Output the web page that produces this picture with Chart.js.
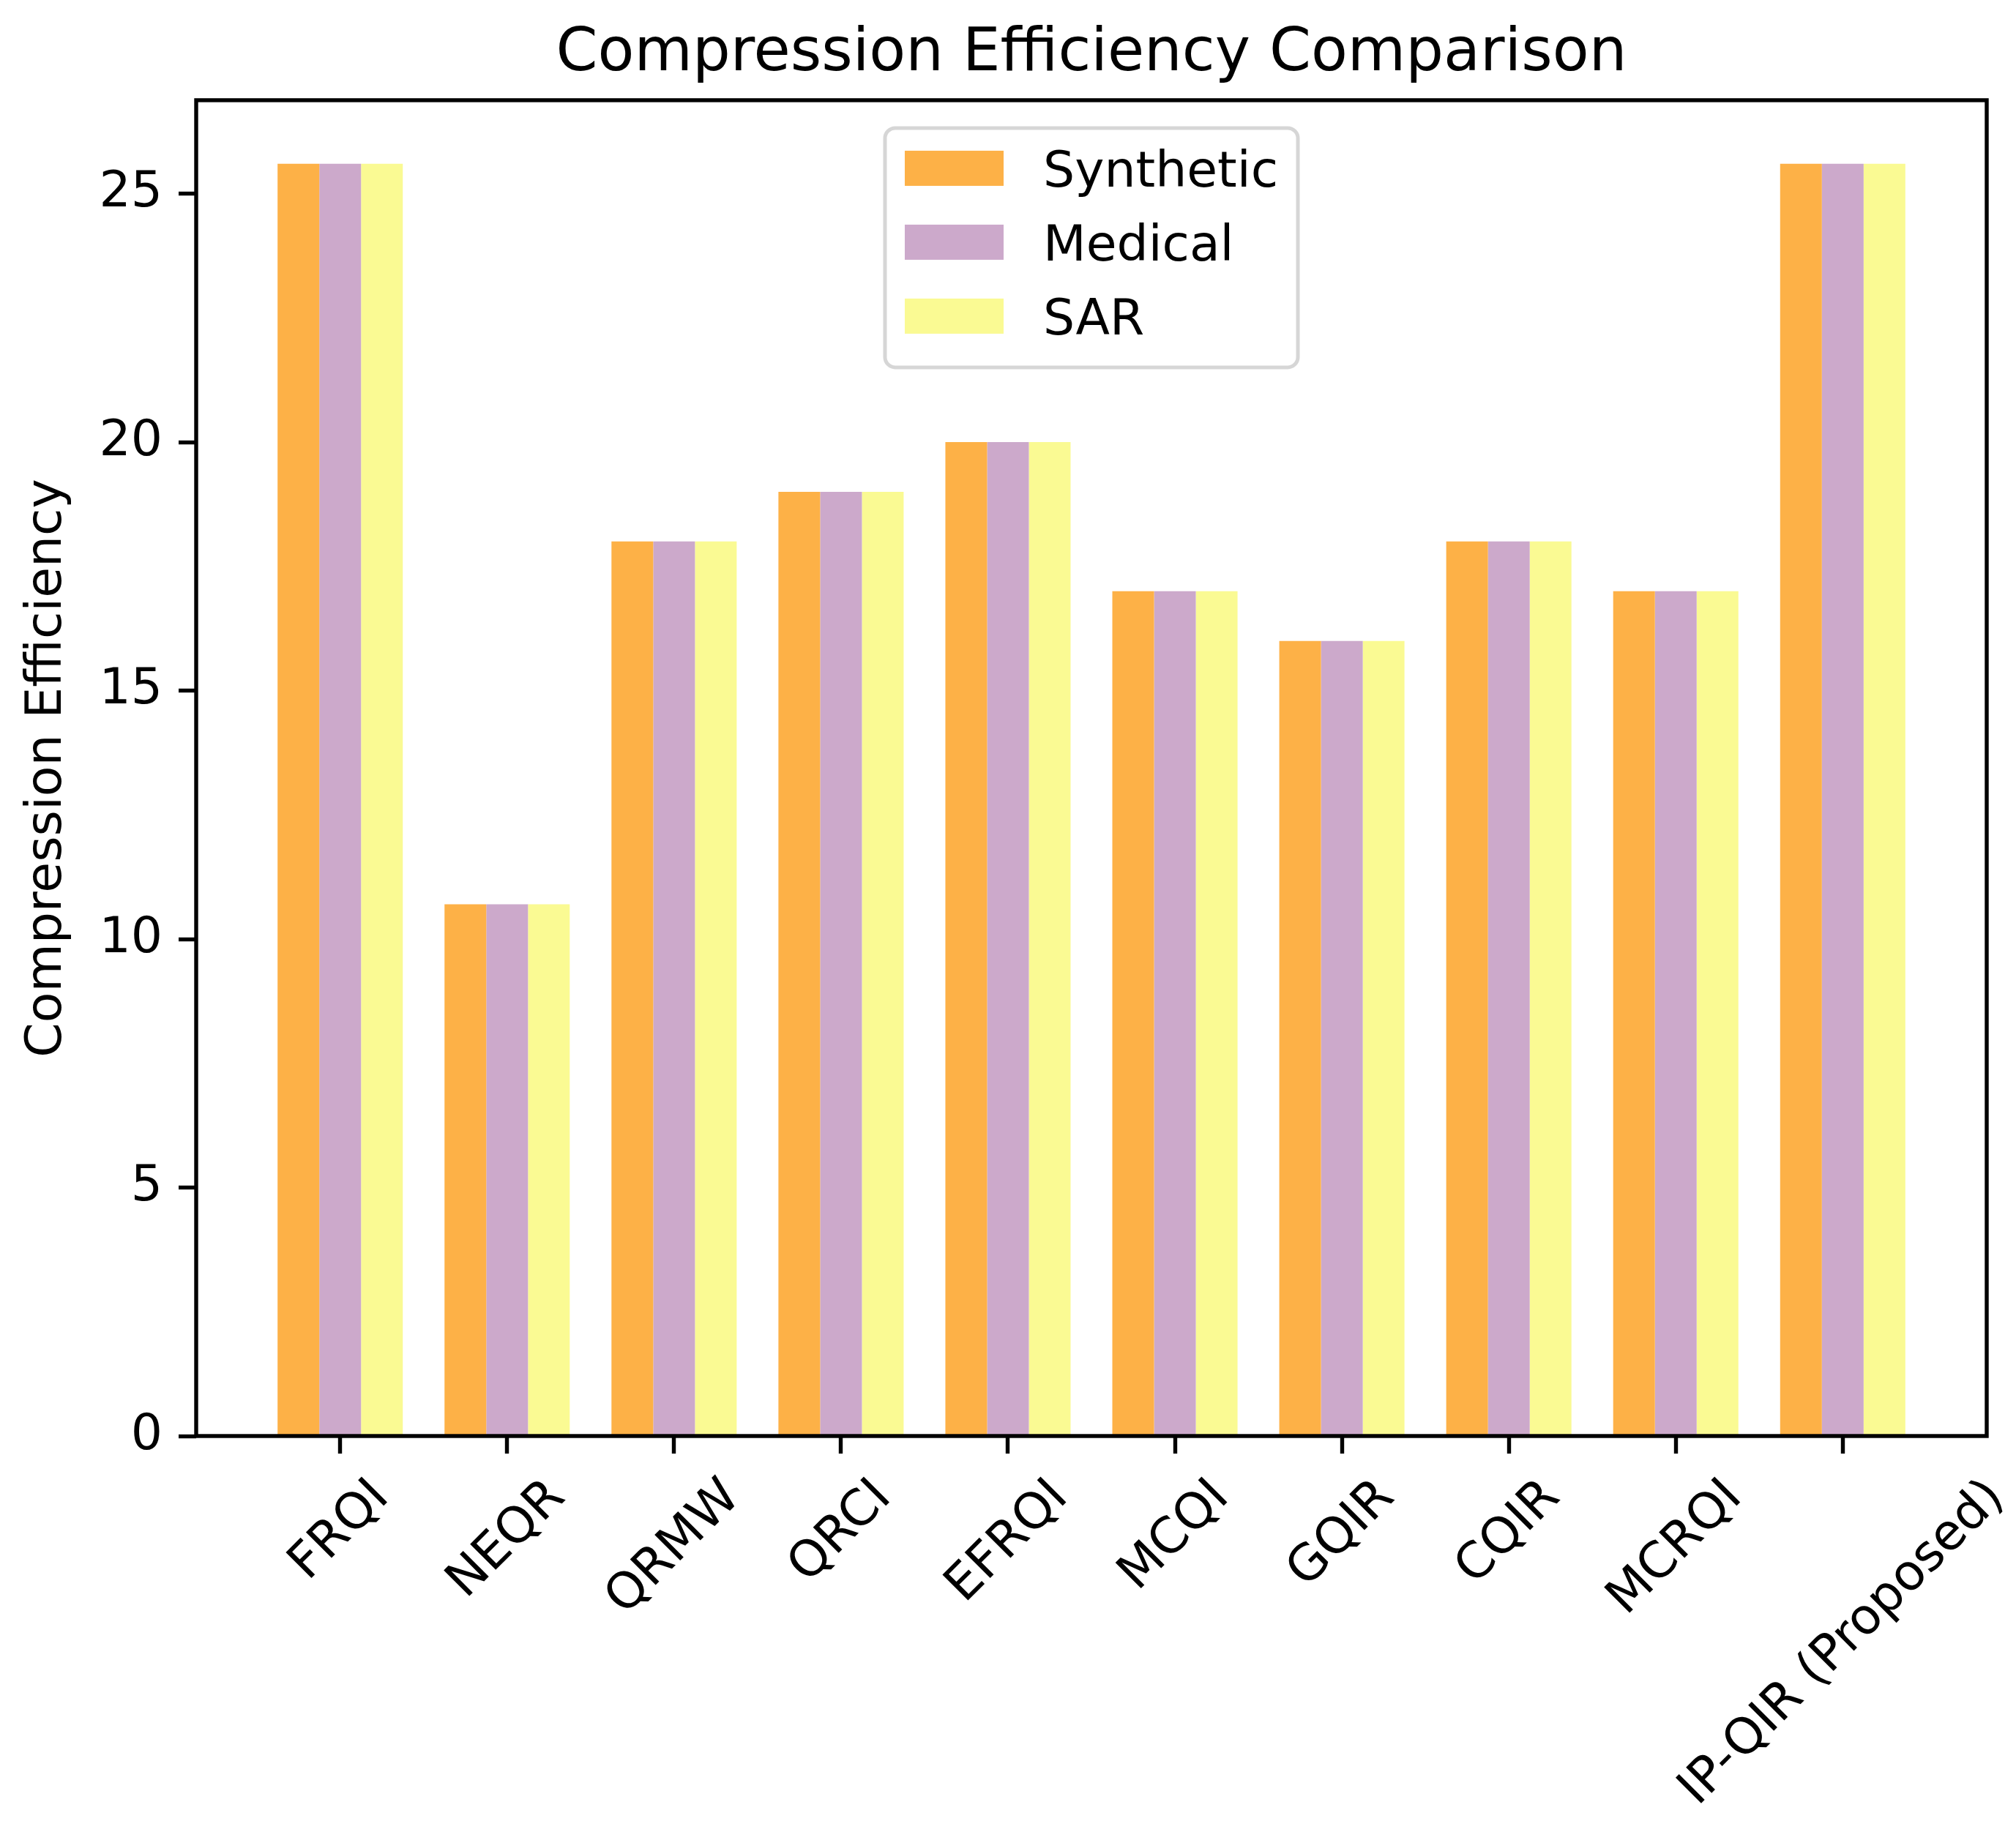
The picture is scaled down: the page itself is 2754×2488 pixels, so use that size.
<!DOCTYPE html>
<html>
<head>
<meta charset="utf-8">
<title>Compression Efficiency Comparison</title>
<script src="https://cdn.jsdelivr.net/npm/chart.js@4"></script>
<style>
  html, body { margin: 0; padding: 0; background: #ffffff; }
  #wrap { width: 2754px; height: 2488px; }
</style>
</head>
<body>
<div id="wrap"><canvas id="efficiencyChart" width="2754" height="2488"></canvas></div>
<script>
// Data
const categories = ['FRQI', 'NEQR', 'QRMW', 'QRCI', 'EFRQI', 'MCQI', 'GQIR', 'CQIR', 'MCRQI', 'IP-QIR (Proposed)'];
const seriesNames = ['Synthetic', 'Medical', 'SAR'];
const synthetic = [25.6, 10.7, 18, 19, 20, 17, 16, 18, 17, 25.6];
const medical   = [25.6, 10.7, 18, 19, 20, 17, 16, 18, 17, 25.6];
const sar       = [25.6, 10.7, 18, 19, 20, 17, 16, 18, 17, 25.6];
const yTicks = [0, 5, 10, 15, 20, 25];

const seriesValues = [synthetic, medical, sar];
const seriesColors = ['#FDB147', '#CCA9CB', '#FAFA93'];

const FONT = 68;          // 10pt in the reference
const TICK_LEN = 24;
const LINE_W = 5.4;

// matplotlib-like autoscale: 5% headroom on y, margins on x
const yMax = Math.max(...synthetic, ...medical, ...sar) * 1.05;
const xMin = -0.8625;
const xMax = categories.length - 1 + 0.8625;

Chart.defaults.font.family = '"DejaVu Sans", sans-serif';
Chart.defaults.color = '#000';

// Frame around the axes plus the rotated category labels (centered on ticks)
const frameAndLabels = {
    id: 'frameAndLabels',
    afterDatasetsDraw(chart) {
        const { ctx, chartArea: a } = chart;
        const xScale = chart.scales.x;

        ctx.save();
        ctx.strokeStyle = '#000';
        ctx.lineWidth = LINE_W;
        ctx.strokeRect(a.left, a.top, a.right - a.left, a.bottom - a.top);

        ctx.font = `${FONT}px "DejaVu Sans"`;
        ctx.fillStyle = '#000';
        ctx.textAlign = 'center';
        ctx.textBaseline = 'middle';
        const labelTop = a.bottom + TICK_LEN + 24;
        categories.forEach((label, i) => {
            const w = ctx.measureText(label).width;
            const half = (w + FONT * 1.05) * Math.SQRT1_2 / 2;
            ctx.save();
            ctx.translate(xScale.getPixelForValue(i), labelTop + half);
            ctx.rotate(-Math.PI / 4);
            ctx.fillText(label, 0, 0);
            ctx.restore();
        });
        ctx.restore();
    }
};

// Legend box in the upper center of the axes
const legendBox = {
    id: 'legendBox',
    afterDatasetsDraw(chart) {
        const { ctx, chartArea: a } = chart;
        const items = chart.data.datasets;
        ctx.save();
        ctx.font = `${FONT}px "DejaVu Sans"`;
        const textW = Math.max(...items.map(d => ctx.measureText(d.label).width));
        const pad = 27, handleW = 135, handleH = 48, gap = 54, rowH = 101;
        const boxW = pad + handleW + gap + textW + pad;
        const boxH = 327;
        const left = (a.left + a.right) / 2 - boxW / 2;
        const top = a.top + 38;

        ctx.beginPath();
        ctx.roundRect(left, top, boxW, boxH, 14);
        ctx.fillStyle = 'rgba(255,255,255,0.8)';
        ctx.fill();
        ctx.strokeStyle = 'rgba(204,204,204,0.8)';
        ctx.lineWidth = 5;
        ctx.stroke();

        ctx.textAlign = 'left';
        ctx.textBaseline = 'alphabetic';
        items.forEach((d, i) => {
            const cy = top + 55 + i * rowH;
            ctx.fillStyle = d.backgroundColor;
            ctx.fillRect(left + pad, cy - handleH / 2, handleW, handleH);
            ctx.fillStyle = '#000';
            ctx.fillText(d.label, left + pad + handleW + gap, cy + FONT * 0.365);
        });
        ctx.restore();
    }
};

const ctx = document.getElementById('efficiencyChart');
new Chart(ctx, {
    type: 'bar',
    data: {
        datasets: seriesNames.map((name, k) => ({
            label: name,
            data: categories.map((c, i) => ({ x: i, y: seriesValues[k][i] })),
            backgroundColor: seriesColors[k],
            borderWidth: 0,
            categoryPercentage: 0.75,
            barPercentage: 1.0
        }))
    },
    options: {
        responsive: false,
        animation: false,
        layout: { padding: { top: 0, left: 0, right: 40, bottom: 0 } },
        plugins: {
            legend: { display: false },
            tooltip: { enabled: false },
            title: {
                display: true,
                text: 'Compression Efficiency Comparison',
                fullSize: false,
                color: '#000',
                font: { size: 81.6, weight: 'normal', lineHeight: 1.2 },
                padding: { top: 26, bottom: 13 }
            }
        },
        scales: {
            x: {
                type: 'linear',
                min: xMin,
                max: xMax,
                offset: false,
                grid: {
                    offset: false,
                    drawOnChartArea: false,
                    drawTicks: true,
                    tickLength: TICK_LEN,
                    tickWidth: LINE_W,
                    tickColor: '#000'
                },
                border: { display: false },
                ticks: { display: false },
                afterBuildTicks: (scale) => {
                    scale.ticks = categories.map((c, i) => ({ value: i }));
                },
                afterFit: (scale) => { scale.height = 526; }
            },
            y: {
                type: 'linear',
                min: 0,
                max: yMax,
                grid: {
                    drawOnChartArea: false,
                    drawTicks: true,
                    tickLength: TICK_LEN,
                    tickWidth: LINE_W,
                    tickColor: '#000'
                },
                border: { display: false },
                ticks: { color: '#000', font: { size: FONT }, padding: 22 },
                afterBuildTicks: (scale) => {
                    scale.ticks = yTicks.map(v => ({ value: v }));
                },
                title: {
                    display: true,
                    text: 'Compression Efficiency',
                    color: '#000',
                    font: { size: FONT },
                    padding: { top: 25, bottom: 0 }
                },
                afterFit: (scale) => { scale.width = 268; }
            }
        }
    },
    plugins: [frameAndLabels, legendBox]
});
</script>
</body>
</html>
